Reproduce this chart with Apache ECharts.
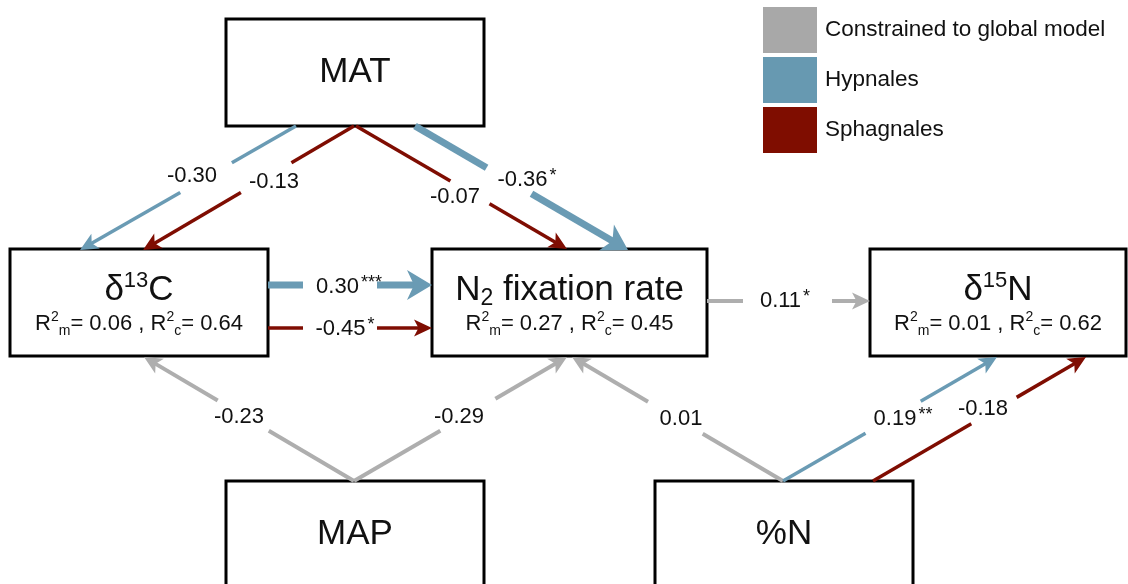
<!DOCTYPE html>
<html><head><meta charset="utf-8">
<script src="https://cdn.jsdelivr.net/npm/echarts@6/dist/echarts.min.js"></script>
<style>html,body{margin:0;padding:0;background:#fff}#c{width:1128px;height:584px}</style>
</head><body><div id="c"></div>
<script>
// ---------------- data ----------------
const groups = ['Constrained to global model', 'Hypnales', 'Sphagnales'];
const nodeNames = ['MAT', 'δ13C', 'N2 fixation rate', 'δ15N', 'MAP', '%N'];
const nodeR2m = [null, 0.06, 0.27, 0.01, null, null];
const nodeR2c = [null, 0.64, 0.45, 0.62, null, null];
const edgeFrom  = ['MAT', 'MAT', 'MAT', 'MAT', 'δ13C', 'δ13C', 'N2 fixation rate', 'MAP', 'MAP', '%N', '%N', '%N'];
const edgeTo    = ['δ13C', 'δ13C', 'N2 fixation rate', 'N2 fixation rate', 'N2 fixation rate', 'N2 fixation rate', 'δ15N', 'δ13C', 'N2 fixation rate', 'N2 fixation rate', 'δ15N', 'δ15N'];
const edgeGroup = ['Hypnales', 'Sphagnales', 'Sphagnales', 'Hypnales', 'Hypnales', 'Sphagnales',
                   'Constrained to global model', 'Constrained to global model', 'Constrained to global model',
                   'Constrained to global model', 'Hypnales', 'Sphagnales'];
const edgeCoef  = [-0.30, -0.13, -0.07, -0.36, 0.30, -0.45, 0.11, -0.23, -0.29, 0.01, 0.19, -0.18];
const edgeSig   = ['', '', '', '*', '***', '*', '*', '', '', '', '**', ''];

// ---------------- layout (diagram units = the hidden axes' scale) ----------------
const nodeBox = {            // [x1, y1, x2, y2]
  'MAT': [226, 19, 484, 126],
  'δ13C': [10, 249, 268, 356],
  'N2 fixation rate': [432, 249, 707, 356],
  'δ15N': [870, 249, 1126, 356],
  'MAP': [226, 481, 484, 620],
  '%N': [655, 481, 913, 620]
};
// [x1, y1, x2(tip), y2(tip)]
const edgeLine = [
  [296, 126, 80, 250], [354, 126, 143, 250], [356, 126, 567, 249], [415, 126, 628, 250],
  [268, 285, 432, 285], [268, 328, 432, 328], [707, 301, 870, 301],
  [354, 481, 144, 357], [354, 481, 567, 357], [783, 481, 572, 357],
  [783, 481, 997, 357], [873, 481, 1086, 357]
];
// gap in the line where the label sits: [gx1, gy1, gx2, gy2]
const edgeGap = [
  [232, 163, 180, 192], [291, 162, 240, 191], [451, 180, 490, 203], [487, 167, 532, 193],
  [303, 285, 377, 285], [303, 328, 377, 328], [743, 301, 832, 301],
  [268, 432, 218, 400], [441, 432, 495, 398], [702, 435, 649, 400],
  [866, 434, 920, 400], [972, 425, 1017, 398]
];
const edgeLabelPos = [
  [192, 176], [274, 182], [455, 197], [527, 180],
  [349, 287], [345, 329], [785, 301],
  [239, 417], [459, 417], [681, 419],
  [903, 419], [983, 409]
];
const edgeThick = [false, false, false, true, true, false, false, false, false, false, false, false];

// ---------------- style ----------------
const FONT = '"Liberation Sans", Arial, Helvetica, sans-serif';
const groupColor = {
  'Constrained to global model': '#aeaeae',
  'Hypnales': '#6a9bb4',
  'Sphagnales': '#7f0d02'
};
const legendColor = {
  'Constrained to global model': '#a8a8a8',
  'Hypnales': '#6799b1',
  'Sphagnales': '#7f0d00'
};

function titleRich(name) {
  let s = name.replace(/δ(\d+)(\w)/, '{t|δ}{sup|$1}{t|$2}');
  s = s.replace(/^N2 (.*)$/, '{t|N}{sub|2}{t| $1}');
  if (s.indexOf('{') < 0) s = '{t|' + s + '}';
  return s;
}
function r2Rich(m, c) {
  return '{r|R}{sp|2}{sb|m}{r|= ' + m.toFixed(2) + ' , R}{sp|2}{sb|c}{r|= ' + c.toFixed(2) + '}';
}

const titleStyles = {
  t: { fontSize: 35, fontFamily: FONT, fill: '#111', lineHeight: 40, verticalAlign: 'middle' },
  sup: { fontSize: 22, fontFamily: FONT, fill: '#111', lineHeight: 22, verticalAlign: 'top' },
  sub: { fontSize: 23, fontFamily: FONT, fill: '#111', lineHeight: 20, verticalAlign: 'bottom' },
  r: { fontSize: 22, fontFamily: FONT, fill: '#111', lineHeight: 28, verticalAlign: 'middle' },
  sp: { fontSize: 14, fontFamily: FONT, fill: '#111', lineHeight: 14, verticalAlign: 'top' },
  sb: { fontSize: 14, fontFamily: FONT, fill: '#111', lineHeight: 13, verticalAlign: 'bottom' }
};

function renderNode(params, api) {
  const name = nodeNames[params.dataIndex];
  const bx = nodeBox[name];
  const p1 = api.coord([bx[0], bx[1]]);
  const p2 = api.coord([bx[2], bx[3]]);
  const cx = (p1[0] + p2[0]) / 2;
  const m = nodeR2m[params.dataIndex], c = nodeR2c[params.dataIndex];
  const children = [{
    type: 'rect',
    shape: { x: p1[0], y: p1[1], width: p2[0] - p1[0], height: p2[1] - p1[1] },
    style: { fill: '#fff', stroke: '#000', lineWidth: 3 }
  }];
  const hasR2 = m !== null;
  const ty = hasR2 ? api.coord([0, bx[1] + 41])[1] : api.coord([0, bx[1] + 53])[1];
  children.push({
    type: 'text', x: cx, y: ty,
    style: { text: titleRich(name), align: 'center', verticalAlign: 'middle', rich: titleStyles, fontFamily: FONT }
  });
  if (hasR2) {
    children.push({
      type: 'text', x: cx, y: api.coord([0, bx[1] + 75])[1],
      style: { text: r2Rich(m, c), align: 'center', verticalAlign: 'middle', rich: titleStyles, fontFamily: FONT }
    });
  }
  return { type: 'group', children: children };
}

function makeEdgeRenderer(list, color, gray) {
  return function (params, api) {
    const i = list[params.dataIndex];
    const L = edgeLine[i];
    const a = api.coord([L[0], L[1]]);
    const b = api.coord([L[2], L[3]]);
    const thick = edgeThick[i];
    const lw = thick ? 7 : (gray ? 4 : 3.5);
    const hl = thick ? 25 : 18, hw = thick ? 15 : 8.5, nd = thick ? 7 : 4.5;
    const dx = b[0] - a[0], dy = b[1] - a[1];
    const len = Math.hypot(dx, dy);
    const ux = dx / len, uy = dy / len, nx = -uy, ny = ux;
    const G = edgeGap[i];
    const g1 = api.coord([G[0], G[1]]), g2 = api.coord([G[2], G[3]]);
    let t1 = (g1[0] - a[0]) * ux + (g1[1] - a[1]) * uy;
    let t2 = (g2[0] - a[0]) * ux + (g2[1] - a[1]) * uy;
    if (t1 > t2) { const tt = t1; t1 = t2; t2 = tt; }
    const tb = len - (hl - nd) + 1;
    const P = t => [a[0] + ux * t, a[1] + uy * t];
    const lineStyle = { stroke: color, lineWidth: lw, fill: null };
    const children = [
      { type: 'line', shape: { x1: a[0], y1: a[1], x2: P(t1)[0], y2: P(t1)[1] }, style: lineStyle },
      { type: 'line', shape: { x1: P(t2)[0], y1: P(t2)[1], x2: P(tb)[0], y2: P(tb)[1] }, style: lineStyle },
      {
        type: 'polygon',
        shape: {
          points: [
            [b[0], b[1]],
            [b[0] - ux * hl + nx * hw, b[1] - uy * hl + ny * hw],
            [b[0] - ux * (hl - nd), b[1] - uy * (hl - nd)],
            [b[0] - ux * hl - nx * hw, b[1] - uy * hl - ny * hw]
          ]
        },
        style: { fill: color }
      }
    ];
    const lp = api.coord(edgeLabelPos[i]);
    let txt = '{n|' + edgeCoef[i].toFixed(2) + '}';
    if (edgeSig[i]) txt += '{s|' + edgeSig[i] + '}';
    children.push({
      type: 'text', x: lp[0], y: lp[1],
      style: {
        text: txt, align: 'center', verticalAlign: 'middle', fontFamily: FONT,
        rich: {
          n: { fontSize: 22, fontFamily: FONT, fill: '#111', lineHeight: 26, verticalAlign: 'middle' },
          s: { fontSize: 18, fontFamily: FONT, fill: '#111', lineHeight: 18, verticalAlign: 'top', padding: [0, 0, 0, 2] }
        }
      }
    });
    return { type: 'group', children: children };
  };
}

const edgeSeries = groups.map(function (g) {
  const list = [];
  edgeGroup.forEach(function (eg, i) { if (eg === g) list.push(i); });
  return {
    name: g,
    type: 'custom',
    coordinateSystem: 'cartesian2d',
    z: 3,
    silent: true,
    itemStyle: { color: legendColor[g] },
    encode: { x: 0, y: 1 },
    data: list.map(function (i) { return [edgeLine[i][2], edgeLine[i][3]]; }),
    renderItem: makeEdgeRenderer(list, groupColor[g], g === groups[0])
  };
});

const nodeSeries = {
  name: 'nodes',
  type: 'custom',
  coordinateSystem: 'cartesian2d',
  z: 2,
  silent: true,
  encode: { x: 0, y: 1 },
  data: nodeNames.map(function (n) { return [nodeBox[n][0], nodeBox[n][1]]; }),
  renderItem: renderNode
};

const chart = echarts.init(document.getElementById('c'), null, { renderer: 'canvas' });
chart.setOption({
  animation: false,
  backgroundColor: '#fff',
  grid: { left: 0, right: 0, top: 0, bottom: 0 },
  xAxis: { type: 'value', min: 0, max: 1128, show: false },
  yAxis: { type: 'value', min: 0, max: 584, inverse: true, show: false },
  legend: {
    orient: 'vertical', left: 763, top: 7, padding: 0,
    itemWidth: 54, itemHeight: 46, itemGap: 4,
    icon: 'rect', selectedMode: false,
    data: groups,
    itemStyle: { borderWidth: 0 },
    textStyle: { fontSize: 22.5, fontFamily: FONT, color: '#111', padding: [0, 0, 0, 3] }
  },
  series: [nodeSeries].concat(edgeSeries)
});
</script>
</body></html>
